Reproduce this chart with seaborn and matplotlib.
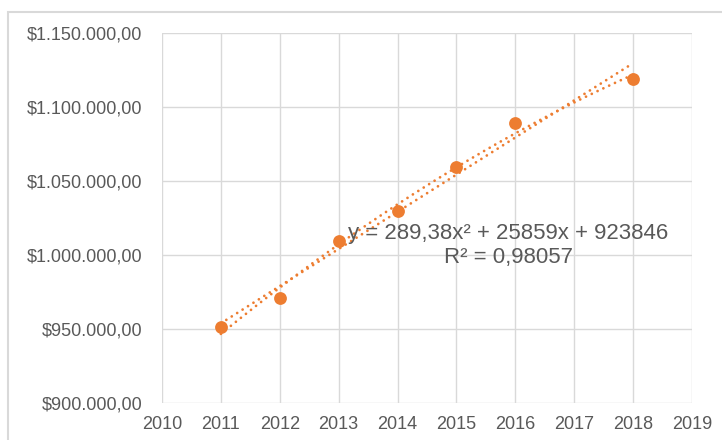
import matplotlib
matplotlib.use('Agg')
import matplotlib.pyplot as plt
from matplotlib.patches import Rectangle
from matplotlib.ticker import FuncFormatter, MultipleLocator
import seaborn as sns
import numpy as np
import pandas as pd

years = [2011, 2012, 2013, 2014, 2015, 2016, 2018]
values = [951500, 971000, 1009500, 1029700, 1059500, 1089200, 1119000]
equation_text = "y = 289,38x² + 25859x + 923846\nR² = 0,98057"

ORANGE = '#ED7D31'
GRID = '#d9d9d9'
TEXT = '#595959'

sns.set_style('white')
plt.rcParams['font.family'] = ['Liberation Sans', 'DejaVu Sans']

df = pd.DataFrame({'year': years, 'value': values})

# trendlines (linear + 2nd order poly), fitted on the points
xs = np.linspace(min(years), max(years), 200)
x0 = 2010
lin = np.polyval(np.polyfit(df['year'] - x0, df['value'], 1), xs - x0)
quad = np.polyval(np.polyfit(df['year'] - x0, df['value'], 2), xs - x0)

fig = plt.figure(figsize=(7.22, 4.40), dpi=100)
ax = fig.add_axes([162 / 722, 1 - 403 / 440, 530 / 722, 370 / 440])

dots = (0, (0.01, 2.3))
sns.lineplot(x=xs, y=lin, ax=ax, color=ORANGE, linewidth=2, linestyle=dots,
             dash_capstyle='round', zorder=3)
sns.lineplot(x=xs, y=quad, ax=ax, color=ORANGE, linewidth=2, linestyle=dots,
             dash_capstyle='round', zorder=3)
sns.scatterplot(data=df, x='year', y='value', ax=ax, color=ORANGE, s=85,
                edgecolor=ORANGE, linewidth=0, zorder=4)

ax.set_xlim(2010, 2019)
ax.set_ylim(900000, 1150000)
ax.xaxis.set_major_locator(MultipleLocator(1))
ax.yaxis.set_major_locator(MultipleLocator(50000))


def money(v, pos):
    s = f"${v:,.2f}"
    return s.replace(',', '#').replace('.', ',').replace('#', '.')


ax.yaxis.set_major_formatter(FuncFormatter(money))
ax.grid(True, color=GRID, linewidth=1)
for sp in ax.spines.values():
    sp.set_visible(False)
ax.tick_params(length=0, labelsize=13, labelcolor=TEXT, pad=9)
ax.tick_params(axis='y', pad=14)
ax.set_xlabel('')
ax.set_ylabel('')

ax.text(0.6535, 0.426, equation_text, transform=ax.transAxes, ha='center',
        va='center', fontsize=16, color=TEXT, linespacing=1.15, zorder=5)

# outer chart border
fig.patches.append(Rectangle((8 / 722, -0.2), 2, 0.2 + 1 - 12 / 440,
                             transform=fig.transFigure, fill=False,
                             edgecolor=GRID, linewidth=1.5))

fig.savefig('out.png', dpi=100)
